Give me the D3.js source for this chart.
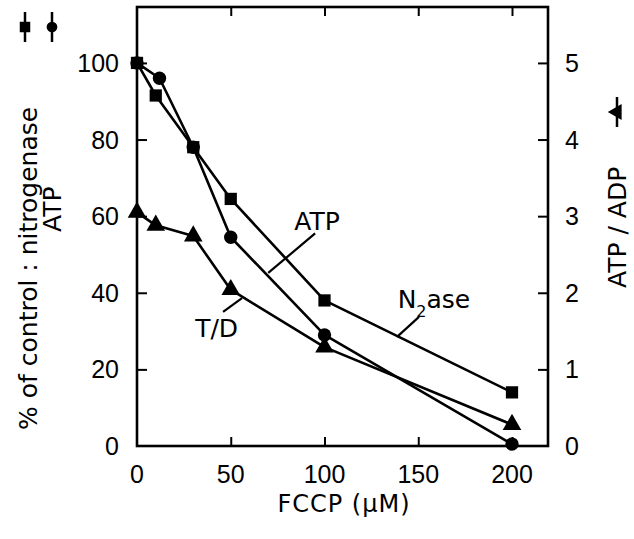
<!DOCTYPE html>
<html><head><meta charset="utf-8">
<script src="https://cdn.jsdelivr.net/npm/d3@7"></script>
<style>body{margin:0;background:#fff}svg{display:block}</style>
</head><body>
<svg id="c" width="634" height="539"></svg>
<script>
// ---- data ----
const fccpN2ase = [0, 10, 30, 50, 100, 200];
const n2aseValues = [100, 91.5, 78, 64.5, 38, 14];
const fccpATP = [0, 12, 30, 50, 100, 200];
const atpValues = [100, 96, 78, 54.5, 29, 0.5];
const fccpTD = [0, 10, 30, 50, 100, 200];
const atpAdpValues = [3.05, 2.88, 2.74, 2.04, 1.29, 0.28];
const xTicks = [0, 50, 100, 150, 200];
const yLeftTicks = [0, 20, 40, 60, 80, 100];
const yRightTicks = [0, 1, 2, 3, 4, 5];

const svg = d3.select("#c");
const L = 137, R = 548, T = 7, B = 446;
const x = d3.scaleLinear().domain([0, 219.2]).range([L, R]);
const y = d3.scaleLinear().domain([0, 114.6]).range([B, T]);
const y2 = d3.scaleLinear().domain([0, 5.73]).range([B, T]);

const tickFont = "'Liberation Sans',Arial,sans-serif";
const titleFont = "'DejaVu Sans',sans-serif";
const SW = 2.6;

// frame
svg.append("rect").attr("x", L).attr("y", T).attr("width", R - L).attr("height", B - T)
  .attr("fill", "none").attr("stroke", "#000").attr("stroke-width", SW);

// axes using d3 axis generators (inward ticks)
const styleAxis = g => { g.select(".domain").remove(); g.selectAll("line").attr("stroke","#000").attr("stroke-width",2); };
const gB = svg.append("g").attr("transform", `translate(0,${B})`)
  .call(d3.axisTop(x).tickValues(xTicks.slice(1)).tickSize(9).tickFormat(""));
styleAxis(gB);
const gT = svg.append("g").attr("transform", `translate(0,${T})`)
  .call(d3.axisBottom(x).tickValues(xTicks.slice(1)).tickSize(9).tickFormat(""));
styleAxis(gT);
const gL = svg.append("g").attr("transform", `translate(${L},0)`)
  .call(d3.axisRight(y).tickValues(yLeftTicks.slice(1)).tickSize(10).tickFormat(""));
styleAxis(gL);
const gR = svg.append("g").attr("transform", `translate(${R},0)`)
  .call(d3.axisLeft(y2).tickValues(yRightTicks.slice(1)).tickSize(10).tickFormat(""));
styleAxis(gR);

// tick labels
const fs = 25;
svg.append("g").selectAll("text").data(xTicks).join("text")
  .attr("x", d => x(d)).attr("y", B + 37).attr("text-anchor", "middle")
  .attr("font-family", tickFont).attr("font-size", fs).text(d => d);
svg.append("g").selectAll("text").data(yLeftTicks).join("text")
  .attr("x", L - 18).attr("y", d => y(d) + 9).attr("text-anchor", "end")
  .attr("font-family", tickFont).attr("font-size", fs).text(d => d);
svg.append("g").selectAll("text").data(yRightTicks).join("text")
  .attr("x", R + 17).attr("y", d => y2(d) + 9).attr("text-anchor", "start")
  .attr("font-family", tickFont).attr("font-size", fs).text(d => d);

// series lines
const line = d3.line();
const series = [
  {xs: fccpN2ase, ys: n2aseValues, sc: y, sym: d3.symbolSquare, size: 150},
  {xs: fccpATP, ys: atpValues, sc: y, sym: d3.symbolCircle, size: 140},
  {xs: fccpTD, ys: atpAdpValues, sc: y2, sym: d3.symbolTriangle, size: 150},
];
series.forEach(s => {
  const pts = s.xs.map((v, i) => [x(v), s.sc(s.ys[i])]);
  svg.append("path").attr("d", line(pts)).attr("fill", "none")
    .attr("stroke", "#000").attr("stroke-width", SW).attr("stroke-linejoin","round");
});
series.forEach(s => {
  svg.append("g").selectAll("path").data(s.xs.map((v, i) => [v, s.ys[i]])).join("path")
    .attr("transform", d => `translate(${x(d[0])},${s.sc(d[1])})`)
    .attr("d", d3.symbol(s.sym, s.size)()).attr("fill", "#000");
});

// annotations (data coordinates)
const ann = svg.append("g").attr("font-family", titleFont).attr("font-size", 25).attr("fill", "#000");
ann.append("text").attr("x", x(96)).attr("y", y(56.5)).attr("text-anchor", "middle").text("ATP");
svg.append("line").attr("x1", x(95)).attr("y1", y(55.5)).attr("x2", x(70)).attr("y2", y(45.2))
  .attr("stroke", "#000").attr("stroke-width", 2.2);
const n2 = ann.append("text").attr("x", x(139)).attr("y", y(36));
n2.append("tspan").text("N");
n2.append("tspan").attr("font-size", 16).attr("dy", 9).text("2");
n2.append("tspan").attr("dy", -9).text("ase");
svg.append("line").attr("x1", x(150.4)).attr("y1", y(33.7)).attr("x2", x(138.7)).attr("y2", y(28.5))
  .attr("stroke", "#000").attr("stroke-width", 2.2);
ann.append("text").attr("x", x(31)).attr("y", y(28.5)).text("T/D");
svg.append("line").attr("x1", x(45.9)).attr("y1", y(35)).attr("x2", x(56)).attr("y2", y(38.6))
  .attr("stroke", "#000").attr("stroke-width", 2.2);

// axis titles
svg.append("text").attr("x", 344).attr("y", 512).attr("text-anchor", "middle")
  .attr("font-family", titleFont).attr("font-size", 24).attr("letter-spacing", 1)
  .text("FCCP  (\u03bcM)");
const lt = svg.append("g").attr("font-family", titleFont).attr("font-size", 25);
lt.append("text").attr("transform", "translate(37,430) rotate(-90)").text("% of control : nitrogenase");
lt.append("text").attr("transform", "translate(61,232) rotate(-90)").text("ATP");
svg.append("text").attr("transform", "translate(626,288) rotate(-90)")
  .attr("font-family", titleFont).attr("font-size", 25).text("ATP / ADP");

// legend keys beside rotated titles
const keys = [
  {cx: 25, cy: 27, sym: d3.symbolSquare, size: 110, rot: 0},
  {cx: 52, cy: 27, sym: d3.symbolCircle, size: 90, rot: 0},
  {cx: 617, cy: 112, sym: d3.symbolTriangle, size: 110, rot: -90},
];
keys.forEach(k => {
  svg.append("line").attr("x1", k.cx).attr("x2", k.cx).attr("y1", k.cy - 15).attr("y2", k.cy + 15)
    .attr("stroke", "#000").attr("stroke-width", 2.5);
  svg.append("path").attr("transform", `translate(${k.cx},${k.cy}) rotate(${k.rot})`)
    .attr("d", d3.symbol(k.sym, k.size)()).attr("fill", "#000");
});
</script>
</body></html>
